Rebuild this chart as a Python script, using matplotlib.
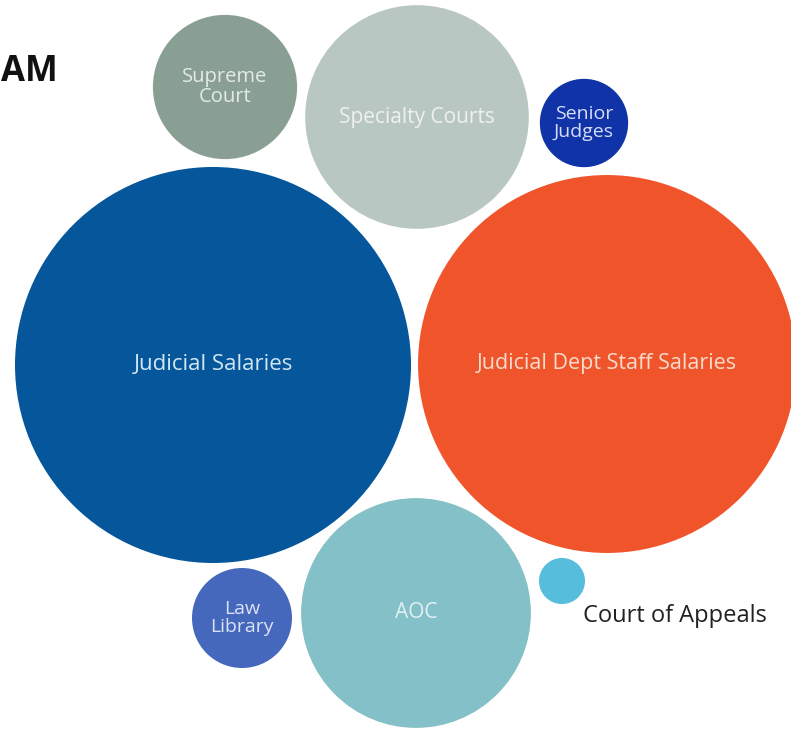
import numpy as np
import matplotlib.pyplot as plt
from matplotlib.patches import Circle

plt.rcParams['font.family'] = ['Open Sans', 'DejaVu Sans']

# budget share per program (arbitrary units)
labels = ['Judicial Salaries', 'Judicial Dept Staff Salaries', 'AOC', 'Specialty Courts',
          'Supreme\nCourt', 'Law\nLibrary', 'Senior\nJudges', 'Court of Appeals']
values = [39.2, 35.7, 13.2, 12.5, 5.2, 2.5, 1.95, 0.53]
colors = ['#05569a', '#f0542a', '#84c0c7', '#b9c7c2', '#8a9f94', '#4567bc', '#1034a8', '#56bddc']
text_colors = ['#d2e6f4', '#f6dccd', '#e2f1f2', '#eef1ef', '#e4ebe7', '#dbe3f6', '#d6def7', '#222222']
font_sizes = [16, 15.5, 15, 15, 14.5, 14, 14, 17]

# bubble layout (pixel positions of centres)
cx = [213, 607, 416, 417, 225, 242, 584, 562]
cy = [365, 364, 613, 117, 87, 618, 123, 581]

scale = 198 / np.sqrt(values[0])

fig = plt.figure(figsize=(7.91, 7.32), dpi=100)
ax = fig.add_axes([0, 0, 1, 1])
ax.set_xlim(0, 791)
ax.set_ylim(732, 0)
ax.set_aspect('equal')
ax.axis('off')

for i in range(len(values)):
    r = scale * np.sqrt(values[i])
    ax.add_patch(Circle((cx[i], cy[i]), r, color=colors[i], lw=0))
    if labels[i] == 'Court of Appeals':
        ax.text(cx[i] + 21, cy[i] + 35, labels[i], ha='left', va='center',
                fontsize=font_sizes[i], color=text_colors[i])
    else:
        ax.text(cx[i], cy[i], labels[i], ha='center', va='center', fontsize=font_sizes[i],
                color=text_colors[i], linespacing=1.0)

# title is cut off at the left edge in the original
ax.text(1, 72, 'AM', ha='left', va='center', fontsize=25, fontweight='bold', color='#111111')

fig.savefig('out.png', dpi=100)
